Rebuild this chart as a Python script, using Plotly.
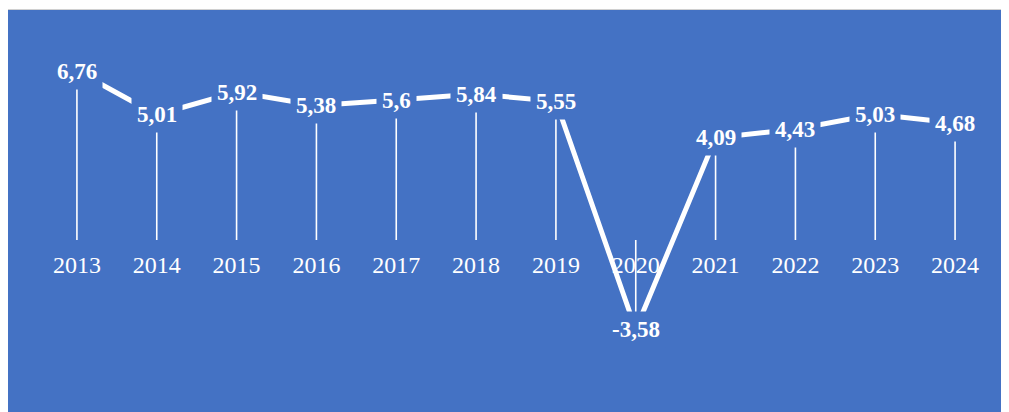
import plotly.graph_objects as go

# growth series, values
years = ["2013", "2014", "2015", "2016", "2017", "2018",
         "2019", "2020", "2021", "2022", "2023", "2024"]
growth = [6.76, 5.01, 5.92, 5.38, 5.6, 5.84, 5.55, -3.58, 4.09, 4.43, 5.03, 4.68]

BLUE = "#4472C4"
W, H = 1009, 412
ML, MR, MT, MB = 29, 22, 20, 20
YMIN, YMAX = -6.4, 8.48

fig = go.Figure()

# drop lines from each value to zero (asymmetric error bars)
fig.add_trace(go.Scatter(
    x=years, y=growth, mode="markers",
    marker=dict(size=0.1, color="rgba(0,0,0,0)"),
    error_y=dict(type="data", symmetric=False,
                 array=[max(-v, 0) for v in growth],
                 arrayminus=[max(v, 0) for v in growth],
                 width=0, thickness=1.6, color="white"),
    hoverinfo="skip", showlegend=False,
))

fig.add_trace(go.Scatter(
    x=years, y=growth, mode="lines",
    line=dict(color="white", width=5),
    showlegend=False,
))

# labels with a blue fill so they cut through the line
for i, v in enumerate(growth):
    fig.add_annotation(
        x=i, y=v, text="<b>" + str(v).replace(".", ",") + "</b>",
        showarrow=False, bgcolor=BLUE, borderpad=5,
        font=dict(family="Liberation Serif", size=23, color="white"),
    )

# thin white strip + grey rule along the top edge
pw = W - ML - MR
ph = H - MT - MB
fig.add_shape(
    type="rect", xref="paper", yref="paper", layer="below",
    x0=(-5 - ML) / pw, x1=(W + 5 - ML) / pw,
    y0=(H - MB - 1.5) / ph, y1=(H - MB + 5) / ph,
    fillcolor="white", line=dict(width=0),
)
fig.add_shape(
    type="line", xref="paper", yref="paper", layer="below",
    x0=(0 - ML) / pw, x1=(W + 5 - ML) / pw,
    y0=(H - MB - 1.5) / ph, y1=(H - MB - 1.5) / ph,
    line=dict(color="#d0d0d0", width=1),
)

fig.update_layout(
    width=W, height=H,
    margin=dict(l=ML, r=MR, t=MT, b=MB),
    paper_bgcolor=BLUE, plot_bgcolor="rgba(0,0,0,0)",
    xaxis=dict(
        type="category", range=[-0.5, 11.5],
        anchor="free", position=(0 - YMIN) / (YMAX - YMIN),
        showgrid=False, showline=False, zeroline=False, ticks="",
        ticklabelstandoff=8, layer="below traces",
        tickfont=dict(family="Liberation Serif", size=24, color="white"),
    ),
    yaxis=dict(range=[YMIN, YMAX], visible=False, showgrid=False, zeroline=False),
)

# keep the page from showing scrollbars
fig.write_html("out.html", post_script="document.body.style.overflow='hidden';")
